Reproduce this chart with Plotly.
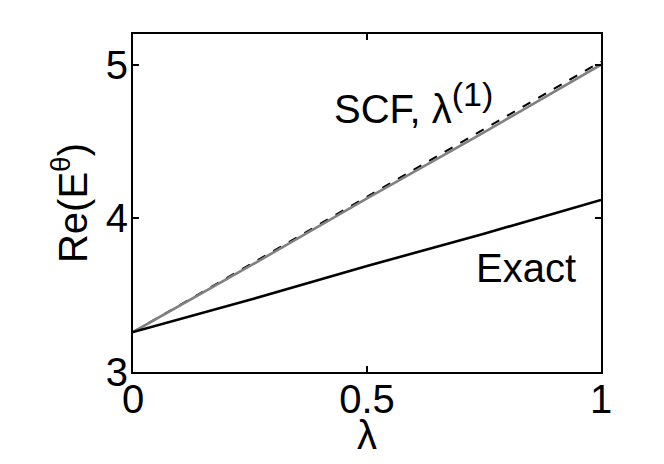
import plotly.graph_objs as go

# Coupling strength and energies
lam = [0.0, 0.25, 0.5, 0.75, 1.0]
exact = [3.26, 3.47, 3.69, 3.90, 4.12]
scf = [3.26, 3.69, 4.13, 4.56, 5.00]
lam_first = [3.26, 3.70, 4.14, 4.58, 5.02]

x_ticks = [0, 0.5, 1]
y_ticks = [3, 4, 5]

font = "Liberation Sans, Arial, sans-serif"

# page body adds an 8px margin, so the figure is shrunk to fit the window
fig = go.Figure(
    data=[
        go.Scatter(x=lam, y=lam_first, mode='lines',
                   line=dict(color='black', width=2, dash='dash')),
        go.Scatter(x=lam, y=scf, mode='lines',
                   line=dict(color='#808080', width=2.6)),
        go.Scatter(x=lam, y=exact, mode='lines',
                   line=dict(color='black', width=2.6)),
    ],
    layout=go.Layout(
        width=656,
        height=456,
        margin=dict(l=125, r=63, t=26, b=92),
        showlegend=False,
        plot_bgcolor='white',
        paper_bgcolor='white',
        font=dict(family=font, size=40, color='black'),
        xaxis=dict(
            range=[0, 1], tickvals=x_ticks, ticktext=['0', '0.5', '1'],
            showgrid=False, zeroline=False, showline=True, linecolor='black',
            linewidth=2, mirror='ticks', ticks='inside', ticklen=6,
            tickwidth=2, tickcolor='black', automargin=False,
            ticklabelstandoff=-9,
        ),
        yaxis=dict(
            range=[3, 5.2], tickvals=y_ticks,
            showgrid=False, zeroline=False, showline=True, linecolor='black',
            linewidth=2, mirror='ticks', ticks='inside', ticklen=6,
            tickwidth=2, tickcolor='black', automargin=False,
            ticklabelstandoff=-5,
            title=dict(text='Re(E<sup>θ</sup>)', standoff=6, font=dict(size=40)),
        ),
        annotations=[
            dict(x=0.5, y=0, xref='paper', yref='paper', text='λ',
                 showarrow=False, xanchor='center', yanchor='middle', yshift=-63,
                 font=dict(family=font, size=40)),
            dict(x=0.426, y=4.75, xref='x', yref='y',
                 text='SCF, λ<sup><span style="font-size:34px">(1)</span></sup>',
                 showarrow=False, xanchor='left', yanchor='middle',
                 font=dict(family=font, size=40)),
            dict(x=0.728, y=3.68, xref='x', yref='y', text='Exact',
                 showarrow=False, xanchor='left', yanchor='middle',
                 font=dict(family=font, size=40)),
        ],
    )
)

fig.write_html("out.html")
